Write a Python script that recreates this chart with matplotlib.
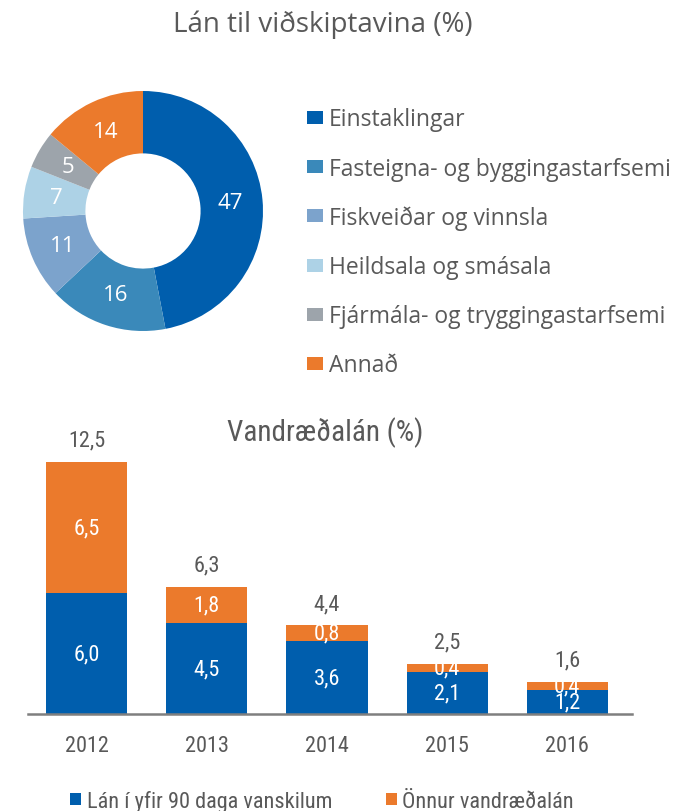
import matplotlib
matplotlib.use("Agg")
import matplotlib.pyplot as plt
import numpy as np
from matplotlib.patches import Rectangle

# ---- data ----
pie_labels = ["Einstaklingar", "Fasteigna- og byggingastarfsemi", "Fiskveiðar og vinnsla",
              "Heildsala og smásala", "Fjármála- og tryggingastarfsemi", "Annað"]
pie_values = [47, 16, 11, 7, 5, 14]
pie_colors = ["#005EAD", "#3A89BA", "#7CA3CC", "#ADD2E6", "#9DA4AB", "#EB7A2C"]

years = ["2012", "2013", "2014", "2015", "2016"]
overdue = [6.0, 4.5, 3.6, 2.1, 1.2]
other = [6.5, 1.8, 0.8, 0.4, 0.4]
totals = [12.5, 6.3, 4.4, 2.5, 1.6]
bar_series = ["Lán í yfir 90 daga vanskilum", "Önnur vandræðalán"]
bar_colors = ["#005EAD", "#EB7A2C"]

def fmt(v):
    return f"{v:.1f}".replace(".", ",")

TXT = "#595959"
W, H = 691, 812
fig = plt.figure(figsize=(W / 100, H / 100), dpi=100)
fig.patch.set_facecolor("white")

top_font = ["Open Sans", "DejaVu Sans"]
bot_font = ["Liberation Sans Narrow", "DejaVu Sans Condensed", "Roboto Condensed", "DejaVu Sans"]

# ---- donut ----
cx, cy, r = 143, 212, 120
axp = fig.add_axes([(cx - r) / W, (H - cy - r) / H, 2 * r / W, 2 * r / H])
wedges, texts = axp.pie(pie_values, colors=pie_colors, startangle=90, counterclock=False,
                        radius=1.0, wedgeprops=dict(width=0.52, edgecolor="none"),
                        labels=[str(v) for v in pie_values], labeldistance=0.73)
for t in texts:
    t.set_color("white")
    t.set_fontsize(16)
    t.set_family(top_font)
    t.set_ha("center")
    t.set_va("center")
axp.set_xlim(-1, 1)
axp.set_ylim(-1, 1)
axp.set_aspect("equal")
axp.axis("off")

fig.text(323 / W, 1 - 32 / H, "Lán til viðskiptavina (%)", ha="center", va="baseline",
         fontsize=20, color=TXT, family=top_font)

# legend (manual layout for the donut)
for i, (lab, w) in enumerate(zip(pie_labels, wedges)):
    yc = 118.5 + i * 49.2
    fig.add_artist(Rectangle((307 / W, (H - yc - 6.5) / H), 16 / W, 13 / H,
                             transform=fig.transFigure, facecolor=w.get_facecolor(),
                             edgecolor="none"))
    fig.text(329 / W, (H - yc - 8) / H, lab, ha="left", va="baseline", fontsize=16.5,
             color=TXT, family=top_font)

# ---- stacked bars ----
base_y = 715
ppu = 20.16
ymax = 14
axb = fig.add_axes([28 / W, (H - base_y) / H, (632 - 28) / W, ymax * ppu / H])
x = np.arange(len(years))
bw = 0.675
b1 = axb.bar(x, overdue, bw, color=bar_colors[0], label=bar_series[0])
b2 = axb.bar(x, other, bw, bottom=overdue, color=bar_colors[1], label=bar_series[1])
for i in range(len(years)):
    axb.text(x[i], overdue[i] / 2, fmt(overdue[i]), ha="center", va="center",
             color="white", fontsize=16, family=bot_font)
    axb.text(x[i], overdue[i] + other[i] / 2, fmt(other[i]), ha="center", va="center",
             color="white", fontsize=16, family=bot_font)
    axb.text(x[i], totals[i] + 0.8, fmt(totals[i]), ha="center", va="baseline",
             color=TXT, fontsize=16, family=bot_font)
axb.set_xlim(-0.49, 4.54)
axb.set_ylim(0, ymax)
for s in ["top", "right", "left"]:
    axb.spines[s].set_visible(False)
axb.spines["bottom"].set_color("#7f7f7f")
axb.spines["bottom"].set_linewidth(1.8)
axb.set_yticks([])
axb.set_xticks(x)
axb.set_xticklabels(years, fontsize=16, color=TXT, family=bot_font)
axb.tick_params(axis="x", length=0, pad=15)
axb.set_facecolor("none")

fig.text(325 / W, 1 - 441 / H, "Vandræðalán (%)", ha="center", va="baseline",
         fontsize=21, color=TXT, family=bot_font)

fig.legend([b1, b2], bar_series, loc="center", bbox_to_anchor=(322 / W, 10 / H),
           ncol=2, frameon=False, prop=dict(family=bot_font, size=16), labelcolor=TXT,
           handlelength=0.5, handleheight=0.5, handletextpad=0.25, columnspacing=2.4,
           borderaxespad=0, borderpad=0)

fig.savefig("out.png", dpi=100, facecolor="white")
